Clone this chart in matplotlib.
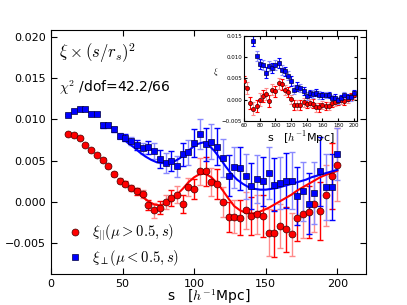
import numpy as np
import matplotlib
matplotlib.use('Agg')
import matplotlib.pyplot as plt

plt.rcParams['font.family'] = ['DejaVu Sans']
plt.rcParams['mathtext.fontset'] = 'cm'

# separation bins [h^-1 Mpc]
s = [12, 16, 20, 24, 28, 32, 36, 40, 44, 48, 52, 56, 60, 64, 68, 72,
     76, 80, 84, 88, 92, 96, 100, 104, 108, 112, 116, 120, 124, 128, 132, 136,
     140, 144, 148, 152, 156, 160, 164, 168, 172, 176, 180, 184, 188, 192, 196, 200]

# xi_parallel * (s/rs)^2
xi_par = [0.0082, 0.0081, 0.0077, 0.0069, 0.0063, 0.0057, 0.0051, 0.0043,
          0.0034, 0.0026, 0.0022, 0.0017, 0.0013, 0.0010, -0.0004, -0.0010,
          -0.0007, 0.0000, 0.0005, 0.0009, -0.0002, 0.0018, 0.0016, 0.0037,
          0.0037, 0.0024, 0.0022, 0.0000, -0.0018, -0.0018, -0.0019, -0.0010,
          -0.0017, -0.0015, -0.0017, -0.0037, -0.0038, -0.0029, -0.0033, -0.0039,
          -0.0019, -0.0014, -0.0012, -0.0002, -0.0011, 0.0008, 0.0032, 0.0045]
err_par = [0.0001, 0.0001, 0.0001, 0.0001, 0.00015, 0.00015, 0.0002, 0.0002,
           0.00025, 0.0003, 0.0003, 0.0004, 0.0004, 0.0005, 0.0006, 0.0009,
           0.0008, 0.0009, 0.0010, 0.0010, 0.0011, 0.0011, 0.0012, 0.0016,
           0.0017, 0.0017, 0.0018, 0.0018, 0.0018, 0.0020, 0.0021, 0.0022,
           0.0023, 0.0024, 0.0025, 0.0028, 0.0028, 0.0027, 0.0027, 0.0026,
           0.0028, 0.0030, 0.0032, 0.0034, 0.0035, 0.0037, 0.0040, 0.0044]

# xi_perp * (s/rs)^2
xi_perp = [0.0105, 0.0110, 0.0113, 0.0112, 0.0107, 0.0107, 0.0093, 0.0093,
           0.0088, 0.0080, 0.0078, 0.0074, 0.0069, 0.0065, 0.0066, 0.0062,
           0.0052, 0.0047, 0.0050, 0.0043, 0.0058, 0.0060, 0.0071, 0.0082,
           0.0070, 0.0073, 0.0067, 0.0053, 0.0032, 0.0042, 0.0041, 0.0031,
           0.0019, 0.0028, 0.0025, 0.0035, 0.0021, 0.0023, 0.0026, 0.0026,
           0.0007, 0.0013, -0.0002, 0.0011, 0.0037, 0.0018, 0.0018, 0.0058]
err_perp = [0.0001, 0.0001, 0.0001, 0.00012, 0.00015, 0.00015, 0.0003, 0.0003,
            0.0003, 0.0004, 0.0004, 0.0005, 0.0006, 0.0007, 0.0008, 0.0010,
            0.0011, 0.0012, 0.0012, 0.0013, 0.0014, 0.0015, 0.0017, 0.0018,
            0.0020, 0.0021, 0.0022, 0.0023, 0.0025, 0.0025, 0.0026, 0.0027,
            0.0028, 0.0029, 0.0030, 0.0031, 0.0032, 0.0032, 0.0033, 0.0034,
            0.0035, 0.0036, 0.0037, 0.0038, 0.0042, 0.0040, 0.0040, 0.0031]

# model curves
s_mod_par = [56, 60, 64, 68, 72, 76, 80, 84, 88, 92, 96, 100, 104, 108, 112, 116,
             120, 124, 128, 132, 136, 140, 144, 148, 152, 156, 160, 164, 168, 172,
             176, 180, 184, 188, 192, 196, 200]
mod_par = [0.0018, 0.0012, 0.0006, 0.0001, -0.0003, -0.0004, -0.0002, 0.0003,
           0.0009, 0.0016, 0.0024, 0.0030, 0.0034, 0.0034, 0.0030, 0.0023,
           0.0014, 0.0004, -0.0005, -0.0010, -0.0013, -0.0014, -0.0013, -0.0010,
           -0.0007, -0.0003, 0.0001, 0.0005, 0.0009, 0.0014, 0.0018, 0.0022,
           0.0026, 0.0030, 0.0033, 0.0035, 0.0038]
s_mod_perp = [50, 54, 58, 62, 66, 70, 74, 78, 82, 86, 90, 94, 98, 102, 106, 110,
              114, 118, 122, 126, 130, 134, 138, 142, 146, 150, 154, 158, 162, 166,
              170, 174, 178, 182, 186, 190, 194, 198, 200]
mod_perp = [0.0077, 0.0071, 0.0066, 0.0060, 0.0055, 0.0051, 0.0048, 0.0047,
            0.0047, 0.0049, 0.0053, 0.0059, 0.0065, 0.0070, 0.0072, 0.0069,
            0.0062, 0.0053, 0.0043, 0.0034, 0.0027, 0.0022, 0.0018, 0.0016,
            0.0015, 0.0015, 0.0016, 0.0017, 0.0019, 0.0021, 0.0023, 0.0025,
            0.0027, 0.0030, 0.0032, 0.0034, 0.0036, 0.0038, 0.0039]

# inset: plain xi(s)
s_in = [60, 64, 68, 72, 76, 80, 84, 88, 92, 96, 100, 104, 108, 112, 116, 120,
        124, 128, 132, 136, 140, 144, 148, 152, 156, 160, 164, 168, 172, 176,
        180, 184, 188, 192, 196, 200]
xi_par_in = [0.0045, 0.0028, -0.0008, -0.0021, -0.0015, 0.0000, 0.0009, 0.0013,
             -0.0002, 0.0024, 0.0020, 0.0039, 0.0036, 0.0023, 0.0018, 0.0001,
             -0.0012, -0.0012, -0.0012, -0.0006, -0.0010, -0.0008, -0.0009, -0.0018,
             -0.0018, -0.0013, -0.0014, -0.0015, -0.0008, -0.0005, -0.0004, -0.0001,
             -0.0003, 0.0002, 0.0008, 0.0011]
err_par_in = [0.0012, 0.0014, 0.0014, 0.0016, 0.0015, 0.0015, 0.0015, 0.0014,
              0.0014, 0.0013, 0.0013, 0.0013, 0.0012, 0.0012, 0.0012, 0.0011,
              0.0011, 0.0011, 0.0011, 0.0010, 0.0010, 0.0010, 0.0010, 0.0010,
              0.0010, 0.0009, 0.0009, 0.0009, 0.0009, 0.0009, 0.0009, 0.0009,
              0.0009, 0.0009, 0.0009, 0.0009]
s_perp_in = s_in[3:]
xi_perp_in = [0.0138, 0.0102, 0.0085, 0.0082, 0.0064, 0.0079, 0.0075, 0.0081,
              0.0087, 0.0070, 0.0067, 0.0057, 0.0044, 0.0024, 0.0031, 0.0028,
              0.0020, 0.0009, 0.0015, 0.0013, 0.0017, 0.0011, 0.0010, 0.0011,
              0.0011, 0.0004, 0.0005, -0.0001, 0.0004, 0.0011, 0.0006, 0.0006,
              0.0015]
err_perp_in = [0.0012, 0.0012, 0.0012, 0.0012, 0.0012, 0.0012, 0.0012, 0.0012,
               0.0012, 0.0011, 0.0011, 0.0011, 0.0011, 0.0010, 0.0010, 0.0010,
               0.0010, 0.0010, 0.0009, 0.0009, 0.0009, 0.0009, 0.0009, 0.0008,
               0.0008, 0.0008, 0.0008, 0.0008, 0.0008, 0.0008, 0.0008, 0.0008,
               0.0008]

RED_DARK, RED_LIGHT = '#ff0000', '#ff8a8a'
BLUE_DARK, BLUE_LIGHT = '#0000ff', '#8a8aff'


def draw_set(ax, x, y, e, mk, fc, ec, dark, light, ms, cap, lw):
    x, y, e = np.array(x), np.array(y), np.array(e)
    for k, col in enumerate([dark, light]):
        ax.errorbar(x[k::2], y[k::2], yerr=e[k::2], fmt='none', ecolor=col,
                    elinewidth=lw, capsize=cap, capthick=lw, zorder=2)
    h, = ax.plot(x, y, mk, mfc=fc, mec=ec, mew=0.5, ms=ms, ls='none', zorder=4)
    return h


fig = plt.figure(figsize=(4.07, 3.05), dpi=100)
ax = fig.add_axes([0.1253, 0.1016, 0.774, 0.80])

ax.plot(s_mod_par, mod_par, color=RED_DARK, lw=1.5, zorder=3)
ax.plot(s_mod_perp, mod_perp, color=BLUE_DARK, lw=1.5, zorder=3)
h1 = draw_set(ax, s, xi_par, err_par, 'o', RED_DARK, '#400000',
              RED_DARK, RED_LIGHT, 5, 2, 1.0)
h2 = draw_set(ax, s, xi_perp, err_perp, 's', BLUE_DARK, '#000040',
              BLUE_DARK, BLUE_LIGHT, 5, 2, 1.0)

ax.set_xlim(0, 220)
ax.set_ylim(-0.0087, 0.0208)
ax.set_xticks([0, 50, 100, 150, 200])
ax.set_yticks([-0.005, 0.000, 0.005, 0.010, 0.015, 0.020])
ax.set_yticklabels(['\u22120.005', '0.000', '0.005', '0.010', '0.015', '0.020'])
ax.tick_params(direction='in', top=True, right=True, labelsize=8, length=4)
ax.set_xlabel(r's   [$h^{-1}$Mpc]', fontsize=10, labelpad=-1)

ax.text(0.025, 0.955, r'$\xi\times(s/r_s)^2$', transform=ax.transAxes,
        fontsize=12, va='top', ha='left')
ax.text(0.025, 0.80, r'$\chi^2$ /dof=42.2/66', transform=ax.transAxes,
        fontsize=10, va='top', ha='left')

ax.legend([h1, h2], [r'$\xi_{||}(\mu>0.5,s)$', r'$\xi_\perp(\mu<0.5,s)$'],
          loc='lower left', bbox_to_anchor=(0.02, -0.01), frameon=False,
          numpoints=1, fontsize=10.5, handletextpad=0.6, borderaxespad=0.2,
          labelspacing=0.3, handlelength=1.2)

# inset
axi = fig.add_axes([0.5995, 0.6033, 0.2776, 0.2787])
draw_set(axi, s_in, xi_par_in, err_par_in, 'o', RED_DARK, '#400000',
         RED_DARK, RED_LIGHT, 3, 1.5, 0.8)
draw_set(axi, s_perp_in, xi_perp_in, err_perp_in, 's', BLUE_DARK, '#000040',
         BLUE_DARK, BLUE_LIGHT, 3, 1.5, 0.8)
axi.set_xlim(60, 204)
axi.set_ylim(-0.005, 0.015)
axi.set_xticks([60, 80, 100, 120, 140, 160, 180, 200])
axi.set_yticks([-0.005, 0.0, 0.005, 0.010, 0.015])
axi.set_yticklabels(['\u22120.005', '0.000', '0.005', '0.010', '0.015'])
axi.tick_params(direction='in', top=True, right=True, labelsize=4, length=2, pad=1.5)
axi.set_xlabel(r's   [$h^{-1}$Mpc]', fontsize=8, labelpad=1)
axi.set_ylabel(r'$\xi$', fontsize=6, rotation=0, labelpad=4)

fig.savefig('out.png', dpi=100)
